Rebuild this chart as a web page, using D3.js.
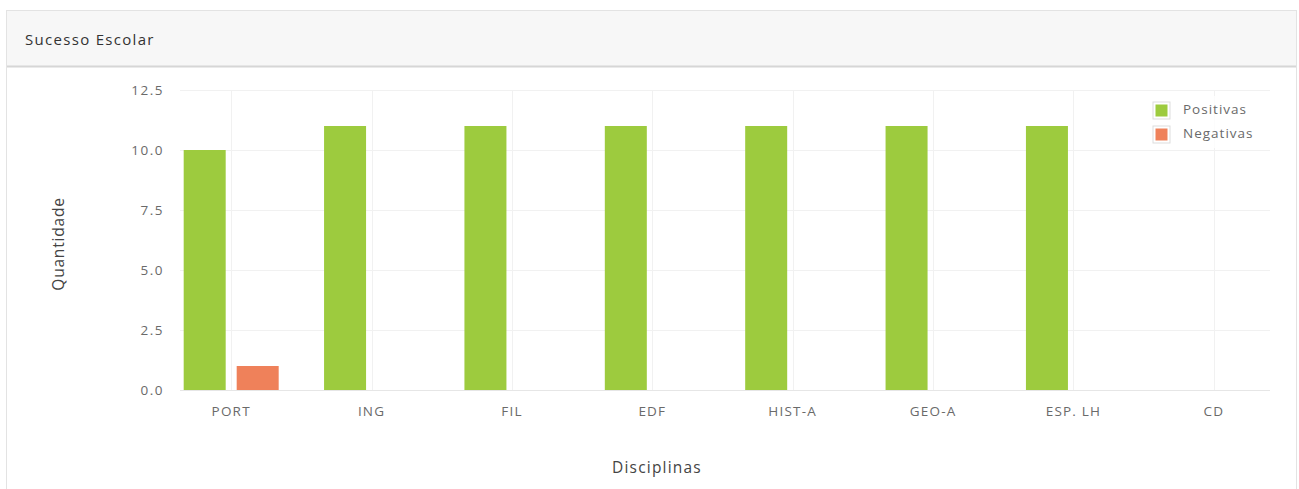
<!DOCTYPE html>
<html>
<head>
<meta charset="utf-8">
<script src="https://cdn.jsdelivr.net/npm/d3@7"></script>
<style>
  html, body { margin: 0; padding: 0; background: #fff; }
  svg { display: block; font-family: "Open Sans", sans-serif; }
</style>
</head>
<body>
<svg id="chart" width="1299" height="489"></svg>
<script>
const title = "Sucesso Escolar";
const categories = ["PORT", "ING", "FIL", "EDF", "HIST-A", "GEO-A", "ESP. LH", "CD"];
const seriesNames = ["Positivas", "Negativas"];
const positivas = [10, 11, 11, 11, 11, 11, 11, 0];
const negativas = [1, 0, 0, 0, 0, 0, 0, 0];
const yTicks = [0, 2.5, 5, 7.5, 10, 12.5];
const colors = ["#9dcb3e", "#ef815a"];
const yLabel = "Quantidade";
const xLabel = "Disciplinas";

const svg = d3.select("#chart");

// panel
svg.append("rect").attr("x", 6.5).attr("y", 10.5).attr("width", 1290).attr("height", 490)
  .attr("fill", "#fff").attr("stroke", "#e3e3e3");
svg.append("rect").attr("x", 7).attr("y", 11).attr("width", 1289).attr("height", 55)
  .attr("fill", "#f7f7f7");
svg.append("line").attr("x1", 7).attr("x2", 1296).attr("y1", 66.5).attr("y2", 66.5)
  .attr("stroke", "#d6d6d6").attr("stroke-width", 2);
svg.append("text").attr("x", 25).attr("y", 45).text(title)
  .attr("font-size", 15).attr("letter-spacing", 1.3).attr("fill", "#333");

const y = d3.scaleLinear().domain([0, 12.5]).range([390, 90]);
const x0 = d3.scaleBand().domain(categories).range([161, 1284]).padding(0);
const x1 = d3.scaleBand().domain(seriesNames)
  .range([x0.bandwidth() / 2 - 47.5, x0.bandwidth() / 2 + 47.5])
  .paddingInner(0.2075).paddingOuter(0);

const gridLeft = 180, gridRight = 1270;

// horizontal grid
svg.append("g").selectAll("line").data(yTicks).join("line")
  .attr("x1", gridLeft).attr("x2", gridRight)
  .attr("y1", d => Math.round(y(d)) + 0.5).attr("y2", d => Math.round(y(d)) + 0.5)
  .attr("stroke", d => d === 0 ? "#e6e6e6" : "#f1f1f1");

// vertical grid at category centers
svg.append("g").selectAll("line").data(categories).join("line")
  .attr("x1", d => Math.round(x0(d) + x0.bandwidth() / 2) + 0.5)
  .attr("x2", d => Math.round(x0(d) + x0.bandwidth() / 2) + 0.5)
  .attr("y1", y(12.5)).attr("y2", y(0))
  .attr("stroke", "#f1f1f1");

// y axis labels
const yAxis = d3.axisLeft(y).tickValues(yTicks).tickFormat(d3.format(".1f")).tickSize(0).tickPadding(0);
const gy = svg.append("g").attr("transform", "translate(164,0)").call(yAxis);
gy.select(".domain").remove();
gy.selectAll("text").attr("font-size", 13.5).attr("letter-spacing", 1.5).attr("fill", "#6a6a6a")
  .attr("font-family", "Open Sans, sans-serif");

// x axis labels
const xAxis = d3.axisBottom(x0).tickSize(0).tickPadding(0);
const gx = svg.append("g").attr("transform", "translate(0,406)").call(xAxis);
gx.select(".domain").remove();
gx.selectAll("text").attr("font-size", 13.5).attr("letter-spacing", 1.2).attr("fill", "#6a6a6a")
  .attr("font-family", "Open Sans, sans-serif");

// bars
const seriesData = [positivas, negativas];
seriesNames.forEach((s, si) => {
  svg.append("g").selectAll("rect").data(categories.map((c, i) => ({c, v: seriesData[si][i]})))
    .join("rect")
    .attr("x", d => x0(d.c) + x1(s))
    .attr("width", x1.bandwidth())
    .attr("y", d => y(d.v))
    .attr("height", d => y(0) - y(d.v))
    .attr("fill", colors[si]);
});

// legend
const lg = svg.append("g");
lg.append("rect").attr("x", 1146).attr("y", 96).attr("width", 120).attr("height", 52).attr("fill", "#fff").attr("opacity", 0.8);
seriesNames.forEach((s, i) => {
  const ly = 102 + i * 24;
  lg.append("rect").attr("x", 1153).attr("y", ly).attr("width", 17).attr("height", 17)
    .attr("fill", "#fff").attr("stroke", "#ddd");
  lg.append("rect").attr("x", 1155.5).attr("y", ly + 2.5).attr("width", 12).attr("height", 12)
    .attr("fill", colors[i]);
  lg.append("text").attr("x", 1183).attr("y", ly + 12).text(s)
    .attr("font-size", 13.5).attr("letter-spacing", 1).attr("fill", "#6a6a6a");
});

// axis titles
svg.append("text").attr("transform", "translate(64,244) rotate(-90)")
  .attr("text-anchor", "middle").attr("font-size", 15.5).attr("letter-spacing", 0.8)
  .attr("fill", "#444").text(yLabel);
svg.append("text").attr("x", 657).attr("y", 473)
  .attr("text-anchor", "middle").attr("font-size", 15.5).attr("letter-spacing", 1.2)
  .attr("fill", "#444").text(xLabel);
</script>
</body>
</html>
